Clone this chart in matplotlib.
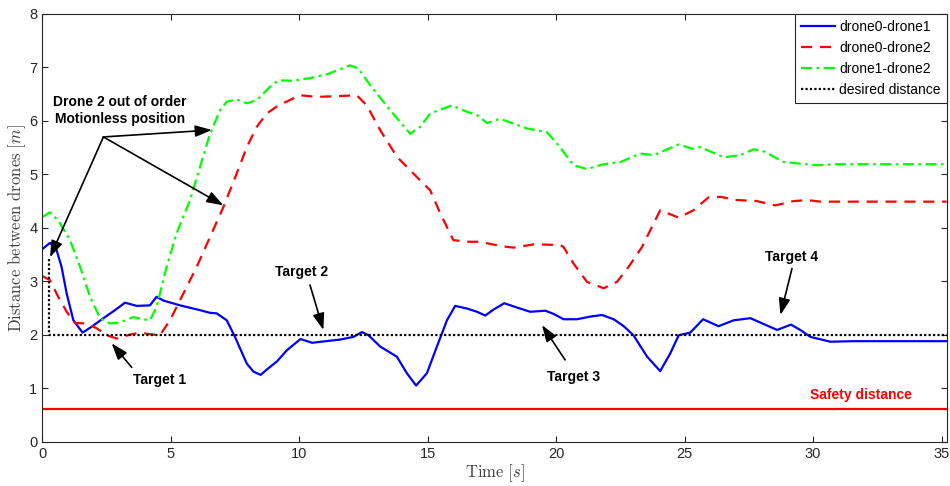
import matplotlib

matplotlib.use("Agg")
import matplotlib.pyplot as plt

plt.rcParams["font.family"] = ["Liberation Sans", "DejaVu Sans"]
plt.rcParams["mathtext.fontset"] = "cm"

# drone0-drone1 (blue, solid)
t01 = [0, 0.3, 0.56, 0.75, 0.95, 1.21, 1.57, 1.92, 2.38, 2.83, 3.22, 3.68,
       4.19, 4.45, 4.71, 5.36, 6.14, 6.53, 6.79, 7.18, 7.5, 7.96, 8.22, 8.5,
       8.74, 9.13, 9.52, 10.05, 10.5, 11.59, 12.11, 12.44, 12.7, 13.15, 13.8,
       14.19, 14.55, 14.97, 15.36, 15.75, 16.07, 16.53, 16.92, 17.24, 17.56,
       17.98, 18.47, 18.99, 19.58, 19.9, 20.29, 20.81, 21.33, 21.78, 22.24,
       22.63, 23.01, 23.54, 24.05, 24.44, 24.77, 25.22, 25.72, 26.32, 26.91,
       27.56, 28.08, 28.6, 29.14, 29.5, 29.9, 30.67, 31.6, 35.2]
d01 = [3.6, 3.72, 3.58, 3.27, 2.77, 2.27, 2.04, 2.15, 2.31, 2.46, 2.60, 2.54,
       2.55, 2.71, 2.64, 2.55, 2.46, 2.41, 2.40, 2.27, 1.96, 1.46, 1.31, 1.25,
       1.35, 1.50, 1.71, 1.92, 1.85, 1.91, 1.96, 2.05, 1.99, 1.78, 1.59, 1.28,
       1.05, 1.28, 1.78, 2.27, 2.54, 2.49, 2.43, 2.36, 2.47, 2.59, 2.51, 2.43,
       2.45, 2.39, 2.29, 2.29, 2.34, 2.37, 2.29, 2.16, 1.99, 1.59, 1.32, 1.65,
       1.99, 2.04, 2.29, 2.16, 2.27, 2.31, 2.20, 2.09, 2.19, 2.09, 1.96, 1.87,
       1.88, 1.88]

# drone0-drone2 (red, dashed)
t02 = [0, 0.3, 0.62, 0.95, 1.27, 1.73, 2.12, 2.51, 2.9, 3.4, 3.8, 4.2, 4.58,
       4.97, 5.49, 6.01, 6.53, 7.05, 7.57, 7.96, 8.35, 8.74, 9.19, 10.03,
       10.69, 11.33, 12.24, 12.63, 13.15, 13.8, 14.58, 15.1, 15.49, 16.0, 16.53,
       17.04, 17.82, 18.34, 19.12, 20.16, 20.29, 20.68, 21.2, 21.85, 22.37,
       22.82, 23.34, 24.05, 24.77, 25.35, 25.93, 26.39, 27.04, 27.82, 28.53,
       29.24, 29.77, 30.28, 35.2]
d02 = [3.10, 3.02, 2.71, 2.43, 2.22, 2.21, 2.12, 1.99, 1.93, 2.00, 2.04, 2.01,
       1.99, 2.27, 2.77, 3.27, 3.83, 4.39, 5.02, 5.51, 5.89, 6.14, 6.29, 6.48,
       6.45, 6.46, 6.48, 6.29, 5.83, 5.33, 4.95, 4.70, 4.27, 3.77, 3.74, 3.74,
       3.66, 3.63, 3.69, 3.68, 3.64, 3.33, 2.99, 2.87, 2.99, 3.27, 3.64, 4.33,
       4.19, 4.33, 4.57, 4.58, 4.52, 4.50, 4.42, 4.50, 4.52, 4.49, 4.49]

# drone1-drone2 (green, dash-dot)
t12 = [0, 0.3, 0.62, 1.08, 1.47, 1.86, 2.25, 2.64, 3.03, 3.54, 3.93, 4.19,
       4.45, 4.84, 5.23, 5.75, 6.14, 6.53, 6.92, 7.18, 7.57, 7.96, 8.35, 8.87,
       9.19, 9.77, 10.4, 11.07, 11.98, 12.3, 12.76, 13.54, 14.32, 14.71, 15.1,
       15.94, 16.53, 16.92, 17.31, 17.82, 18.86, 19.64, 20.03, 20.68, 21.2,
       21.85, 22.5, 23.27, 23.79, 24.77, 25.29, 25.61, 26.52, 27.17, 27.69,
       28.08, 28.86, 29.5, 30.16, 30.93, 35.2]
d12 = [4.2, 4.29, 4.14, 3.77, 3.27, 2.71, 2.31, 2.21, 2.23, 2.33, 2.29, 2.27,
       2.52, 3.27, 3.90, 4.52, 5.14, 5.76, 6.20, 6.36, 6.40, 6.33, 6.39, 6.64,
       6.76, 6.75, 6.80, 6.87, 7.04, 6.98, 6.67, 6.20, 5.76, 5.89, 6.14, 6.29,
       6.17, 6.11, 5.96, 6.04, 5.86, 5.79, 5.58, 5.17, 5.10, 5.19, 5.23, 5.39,
       5.36, 5.56, 5.48, 5.51, 5.32, 5.36, 5.47, 5.43, 5.23, 5.20, 5.17, 5.19,
       5.19]

# desired distance (black dotted) and safety distance
t_des = [0.27, 0.27, 35.2]
d_des = [3.42, 2.0, 2.0]
safety = 0.62

targets = ["Target 1", "Target 2", "Target 3", "Target 4"]
target_tip = [(2.70, 1.84), (10.94, 2.09), (19.45, 2.18), (28.73, 2.37)]
target_tail = [(3.48, 1.39), (10.42, 2.93), (20.35, 1.53), (29.18, 3.24)]
target_txt = [(4.56, 1.15), (10.1, 3.17), (20.68, 1.21), (29.18, 3.45)]

fig = plt.figure(figsize=(9.5, 4.86), dpi=100)
ax = fig.add_axes([0.0445, 0.0912, 0.952, 0.88])

ax.plot(t01, d01, color="#0000ff", lw=1.6, label="drone0-drone1")
ax.plot(t02, d02, color="#ff0000", lw=1.6, ls=(0, (5, 3.5)), label="drone0-drone2")
ax.plot(t12, d12, color="#00ff00", lw=1.6, ls=(0, (5, 2, 1.2, 2)), label="drone1-drone2")
ax.plot(t_des, d_des, color="black", lw=1.6, ls=(0, (1, 1)), label="desired distance")
ax.axhline(safety, color="#ff0000", lw=1.6)

ax.set_xlim(0, 35.2)
ax.set_ylim(0, 8)
ax.set_xticks(range(0, 36, 5))
ax.set_yticks(range(0, 9))
ax.tick_params(direction="in", top=True, right=True, labelsize=10.5,
               colors="#262626", length=4)
for s in ax.spines.values():
    s.set_color("#262626")
    s.set_linewidth(0.8)
ax.set_xlabel(r"$\mathrm{Time}\ [s]$", fontsize=12, color="#404040", labelpad=1)
ax.set_ylabel(r"$\mathrm{Distance\ between\ drones}\ [m]$", fontsize=12,
              color="#404040", labelpad=1)

leg = ax.legend(loc="upper right", borderaxespad=0, fontsize=10, fancybox=False,
                framealpha=1, edgecolor="#262626", handlelength=2.4,
                handletextpad=0.3, labelspacing=0.5, borderpad=0.45)
leg.get_frame().set_linewidth(0.8)

akw = dict(arrowstyle="-|>,head_length=1.0,head_width=0.35", color="black",
           lw=1.2, mutation_scale=10, shrinkA=0, shrinkB=0)
ax.text(3.03, 6.2, "Drone 2 out of order\nMotionless position", ha="center",
        va="center", fontsize=10, fontweight="bold", linespacing=1.3)
origin = (2.38, 5.70)
for tip in [(6.6, 5.83), (7.05, 4.42), (0.3, 3.45)]:
    ax.annotate("", xy=tip, xytext=origin, arrowprops=akw)

for name, tip, tl, pos in zip(targets, target_tip, target_tail, target_txt):
    ax.annotate("", xy=tip, xytext=tl, arrowprops=akw)
    ax.text(pos[0], pos[1], name, ha="center", va="center", fontsize=10,
            fontweight="bold")

ax.text(31.87, 0.87, "Safety distance", ha="center", va="center", fontsize=10,
        fontweight="bold", color="#ff0000")

fig.savefig("out.png", dpi=100)
